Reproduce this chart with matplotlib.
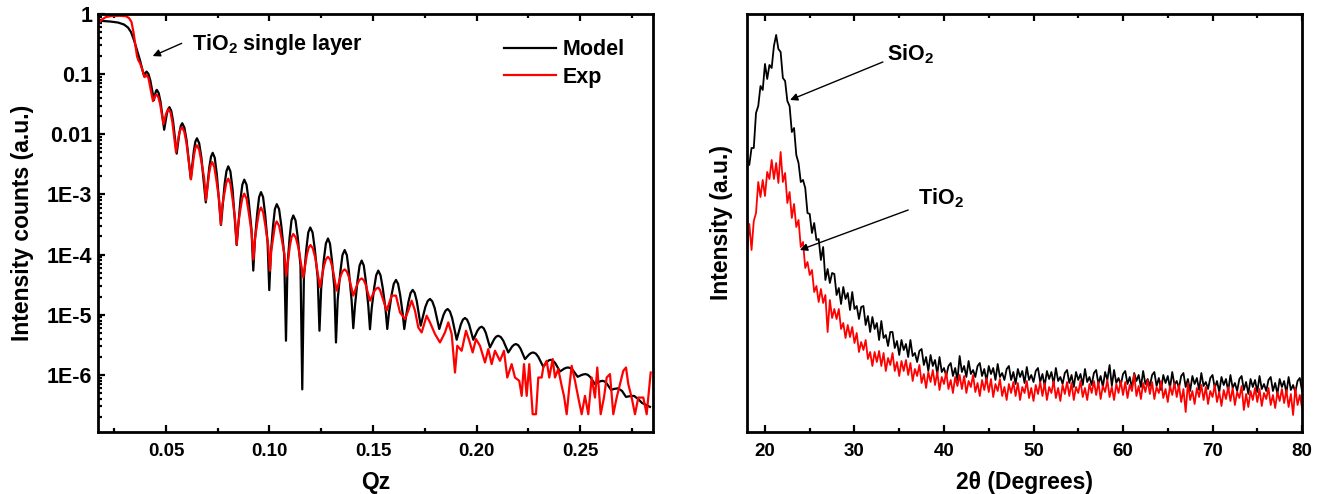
"""
XRR fit of a TiO2 single layer (left) and XRD of the SiO2 / TiO2 films (right).
"""

import numpy as np
import matplotlib
matplotlib.use("Agg")
import matplotlib.pyplot as plt
from matplotlib.ticker import MultipleLocator, LogLocator, NullFormatter

# XRR model curve: Qz and log10 of the reflected intensity
model_qz = [
    0.01764, 0.02295, 0.02682, 0.02971, 0.03165, 0.0331, 0.03454, 0.03599, 0.03744, 0.03865,
    0.03947, 0.04005, 0.04063, 0.04152, 0.04242, 0.0442,
    0.0449, 0.04527, 0.0456, 0.04647, 0.04737, 0.04913,
    0.05041, 0.05106, 0.05169, 0.05256, 0.05343, 0.05517,
    0.05652, 0.0572, 0.05787, 0.05889, 0.05993, 0.06198,
    0.06348, 0.06422, 0.06497, 0.06604, 0.0671, 0.06922,
    0.07089, 0.07174, 0.07256, 0.07357, 0.07456, 0.07657,
    0.07833, 0.07922, 0.08009, 0.08111, 0.08212, 0.08415,
    0.08598, 0.0869, 0.08782, 0.08891, 0.08999, 0.0913, 0.09217,
    0.09289, 0.09403, 0.09497, 0.09589, 0.0969, 0.09789, 0.09907, 0.09989,
    0.10062, 0.10171, 0.1026, 0.10352, 0.10463, 0.10574, 0.10709, 0.10796,
    0.10869, 0.10972, 0.11062, 0.11149, 0.11257, 0.11366, 0.11496, 0.11583,
    0.11661, 0.11777, 0.11873, 0.1197, 0.12081, 0.12192, 0.12327, 0.12414,
    0.12496, 0.12619, 0.12723, 0.12825, 0.12921, 0.13018, 0.13134, 0.13211,
    0.13293, 0.13421, 0.13525, 0.13631, 0.13735, 0.13839, 0.13965, 0.14047,
    0.14129, 0.1425, 0.14351, 0.14452, 0.14554, 0.14653, 0.14771, 0.14853,
    0.14935, 0.15054, 0.15153, 0.15254, 0.15363, 0.15471, 0.15602, 0.15689,
    0.15771, 0.15899, 0.16003, 0.16109, 0.1621, 0.16309, 0.16428, 0.1651,
    0.16592, 0.16713, 0.16814, 0.16916, 0.17012, 0.17109, 0.17302,
    0.17527, 0.1764, 0.17751, 0.17862, 0.17976, 0.182,
    0.18403, 0.18505, 0.18606, 0.18715, 0.18823, 0.19041,
    0.19241, 0.1934, 0.19442, 0.19543, 0.19642, 0.19843,
    0.20045, 0.20147, 0.20248, 0.2035, 0.20449, 0.20649,
    0.2085, 0.20949, 0.2105, 0.21171, 0.21292, 0.21533,
    0.21719, 0.21813, 0.21905, 0.22014, 0.22122, 0.2234,
    0.2254, 0.22639, 0.22741, 0.22861, 0.22982, 0.23224,
    0.23402, 0.23492, 0.23581, 0.23692, 0.23806, 0.2403,
    0.24231, 0.2433, 0.24431, 0.24545, 0.24658, 0.24885,
    0.25078, 0.25175, 0.25272, 0.25383, 0.25496, 0.25721,
    0.25907, 0.26001, 0.26093, 0.26194, 0.26293, 0.26494,
    0.26663, 0.26832, 0.27025, 0.27218, 0.27411, 0.27604, 0.27798, 0.27991, 0.28377,
]
model_log_r = [
    -0.112, -0.125, -0.142, -0.175, -0.225, -0.3, -0.433, -0.6, -0.767, -0.933,
    -1.033, -0.983, -0.958, -0.997, -1.102, -1.433,
    -1.313, -1.275, -1.262, -1.315, -1.46, -1.925,
    -1.663, -1.58, -1.55, -1.612, -1.782, -2.322,
    -1.968, -1.857, -1.817, -1.89, -2.095, -2.742,
    -2.27, -2.12, -2.067, -2.15, -2.387, -3.133,
    -2.557, -2.375, -2.308, -2.392, -2.668, -3.508,
    -2.827, -2.612, -2.533, -2.617, -2.9, -3.842,
    -3.082, -2.838, -2.755, -2.838, -3.122, -3.583, -4.267,
    -3.795, -3.328, -3.045, -2.962, -3.045, -3.328, -3.795, -4.592,
    -3.995, -3.528, -3.245, -3.162, -3.245, -3.528, -3.995, -5.433,
    -4.183, -3.717, -3.433, -3.35, -3.433, -3.717, -4.183, -6.242,
    -4.383, -3.917, -3.633, -3.55, -3.633, -3.917, -4.383, -5.267,
    -4.567, -4.1, -3.817, -3.733, -3.817, -4.1, -4.567, -5.462,
    -4.758, -4.292, -4.008, -3.925, -4.008, -4.292, -4.758, -5.225,
    -4.85, -4.438, -4.183, -4.1, -4.183, -4.442, -4.85, -5.242,
    -4.9, -4.558, -4.345, -4.267, -4.345, -4.558, -4.9, -5.238,
    -4.967, -4.667, -4.487, -4.422, -4.487, -4.667, -4.967, -5.238,
    -5.033, -4.783, -4.64, -4.588, -4.637, -4.767, -5.183,
    -4.872, -4.773, -4.738, -4.778, -4.888, -5.238,
    -5.005, -4.932, -4.905, -4.947, -5.058, -5.417,
    -5.163, -5.083, -5.055, -5.083, -5.163, -5.417,
    -5.265, -5.217, -5.2, -5.228, -5.303, -5.545,
    -5.408, -5.365, -5.35, -5.372, -5.433, -5.628,
    -5.53, -5.5, -5.488, -5.508, -5.563, -5.738,
    -5.662, -5.637, -5.628, -5.647, -5.7, -5.867,
    -5.785, -5.76, -5.75, -5.765, -5.808, -5.945,
    -5.898, -5.883, -5.878, -5.89, -5.925, -6.033,
    -6.002, -5.992, -5.988, -6.002, -6.038, -6.155,
    -6.117, -6.105, -6.1, -6.112, -6.145, -6.25,
    -6.233, -6.225, -6.267, -6.367, -6.355, -6.35, -6.4, -6.467, -6.533,
]

# XRR measured curve: Qz and log10 of the reflected intensity
exp_qz = [
    0.01764, 0.01909, 0.02102, 0.02392, 0.02778, 0.03068, 0.03213, 0.03334, 0.0343, 0.03527,
    0.03599, 0.03662, 0.03744, 0.03865, 0.03962, 0.04058, 0.04155, 0.04372,
    0.04459, 0.04503, 0.04546, 0.04628, 0.04713, 0.04879,
    0.05007, 0.05072, 0.05135, 0.05222, 0.05309, 0.05483,
    0.05628, 0.057, 0.05773, 0.05881, 0.0599, 0.06208,
    0.0635, 0.0642, 0.06492, 0.06604, 0.06712, 0.06845, 0.06932,
    0.07082, 0.07157, 0.07231, 0.07335, 0.07439, 0.07565, 0.07647,
    0.07719, 0.07828, 0.07917, 0.08009, 0.08111, 0.08212, 0.08333, 0.08415,
    0.08487, 0.08598, 0.0869, 0.08782, 0.08893, 0.09004, 0.09139, 0.09226,
    0.09299, 0.09407, 0.09497, 0.09589, 0.09697, 0.09806, 0.09936, 0.10023,
    0.10086, 0.10185, 0.10265, 0.10347, 0.10463, 0.10579, 0.10719, 0.1081,
    0.1098, 0.11064, 0.11149, 0.11269, 0.1139, 0.11632,
    0.11805, 0.11892, 0.11979, 0.12095, 0.12209, 0.12438,
    0.12631, 0.12728, 0.12825, 0.12931, 0.13035, 0.13245,
    0.13438, 0.13535, 0.13631, 0.13735, 0.13839, 0.14047,
    0.1425, 0.14351, 0.14452, 0.14554, 0.14653, 0.14853,
    0.15054, 0.15153, 0.15254,
    0.15336, 0.1566, 0.15901, 0.16109, 0.16302, 0.16544, 0.16703, 0.16867, 0.17027, 0.17186,
    0.1735, 0.17592, 0.17751, 0.17993, 0.18234, 0.18476, 0.18635, 0.18799, 0.18959, 0.1907,
    0.19282, 0.1949, 0.19649, 0.19814, 0.19973, 0.20166, 0.20408, 0.20567, 0.20731, 0.20891,
    0.21132, 0.21325, 0.21485, 0.21697, 0.21857, 0.22064, 0.2218, 0.22291, 0.22422, 0.22547,
    0.22712, 0.22871, 0.22982, 0.23146, 0.23224, 0.23388, 0.23513, 0.23678, 0.23789, 0.23948,
    0.24112, 0.24223, 0.24354, 0.24479, 0.24595, 0.24755, 0.24914, 0.25078, 0.25238, 0.25397,
    0.25561, 0.25721, 0.25832, 0.25996, 0.26155, 0.26286, 0.26445, 0.26605, 0.26769, 0.26928,
    0.27088, 0.27218, 0.2733, 0.27493, 0.27653, 0.27812, 0.28054, 0.28218, 0.28411,
]
exp_log_r = [
    -0.145, -0.092, -0.05, -0.033, -0.03, -0.037, -0.067, -0.133, -0.3, -0.533,
    -0.7, -0.767, -0.817, -0.933, -1.05, -1.017, -1.067, -1.45,
    -1.375, -1.35, -1.342, -1.382, -1.49, -1.833,
    -1.658, -1.603, -1.583, -1.64, -1.797, -2.295,
    -2.007, -1.917, -1.883, -1.953, -2.143, -2.75,
    -2.353, -2.228, -2.183, -2.257, -2.458, -2.733, -3.1,
    -2.653, -2.513, -2.462, -2.545, -2.773, -3.083, -3.5,
    -3.183, -2.967, -2.8, -2.738, -2.822, -3.067, -3.395, -3.833,
    -3.5, -3.242, -3.057, -2.988, -3.072, -3.317, -3.645, -4.083,
    -3.733, -3.477, -3.287, -3.217, -3.3, -3.532, -3.847, -4.267,
    -3.933, -3.695, -3.515, -3.45, -3.522, -3.72, -3.99, -4.35,
    -3.867, -3.713, -3.658, -3.717, -3.875, -4.378,
    -4.003, -3.885, -3.842, -3.898, -4.053, -4.545,
    -4.19, -4.078, -4.038, -4.083, -4.207, -4.6,
    -4.353, -4.275, -4.247, -4.282, -4.378, -4.683,
    -4.483, -4.42, -4.397, -4.427, -4.508, -4.767,
    -4.615, -4.567, -4.55,
    -4.588, -4.933, -4.683, -4.683, -4.962, -5.072, -4.933, -4.767, -4.933, -5.212,
    -5.295, -5.017, -5.128, -5.322, -5.462, -5.295, -5.128, -5.322, -5.962, -5.517,
    -5.6, -5.267, -5.433, -5.628, -5.405, -5.517, -5.795, -5.572, -5.822, -5.6,
    -5.767, -5.6, -6.045, -5.822, -6.045, -6.1, -6.35, -5.822, -6.35, -5.822,
    -6.655, -6.655, -6.045, -6.045, -5.878, -5.767, -6.045, -5.738, -6.045, -5.905,
    -6.183, -6.35, -6.655, -6.212, -5.85, -6.1, -6.378, -6.655, -6.35, -6.655,
    -6.045, -6.378, -5.878, -6.655, -6.378, -6.045, -5.988, -6.655, -6.378, -6.155,
    -5.933, -5.878, -6.155, -6.378, -6.655, -6.378, -6.378, -6.655, -5.962,
]

# XRD scans, 2theta from 18 to 80 deg in 0.25 deg steps (arbitrary units)
two_theta = np.arange(18.0, 80.001, 0.25)
sio2_counts = [
    272, 267, 284, 284, 319, 326, 346, 342, 368, 353, 367, 364, 386, 397, 383, 380,
    354, 351, 331, 326, 300, 304, 277, 269, 250, 252, 244, 219, 218, 199, 209, 192,
    193, 172, 185, 152, 163, 149, 159, 158, 137, 144, 128, 145, 133, 139, 122, 140,
    123, 126, 113, 125, 126, 107, 116, 100, 115, 103, 109, 92, 111, 94, 97, 86,
    100, 100, 84, 91, 77, 92, 82, 88, 75, 92, 76, 79, 70, 81, 83, 67,
    75, 61, 77, 66, 72, 58, 75, 60, 64, 56, 66, 69, 56, 64, 52, 76,
    60, 66, 55, 71, 58, 62, 55, 66, 69, 56, 63, 51, 66, 58, 64, 52,
    68, 55, 59, 52, 63, 66, 52, 60, 48, 63, 55, 61, 49, 65, 52, 57,
    50, 61, 64, 50, 58, 46, 61, 53, 60, 48, 64, 51, 55, 48, 59, 62,
    49, 57, 45, 60, 52, 58, 47, 63, 50, 55, 47, 59, 62, 48, 56, 45,
    60, 52, 67, 46, 62, 49, 54, 47, 58, 61, 48, 55, 44, 59, 51, 57,
    45, 61, 48, 53, 46, 57, 60, 46, 54, 42, 57, 49, 56, 44, 60, 47,
    51, 44, 56, 59, 45, 53, 41, 56, 48, 54, 42, 59, 46, 50, 43, 54,
    57, 44, 51, 40, 55, 47, 53, 41, 57, 44, 49, 41, 53, 56, 42, 50,
    38, 53, 45, 52, 40, 56, 43, 48, 41, 52, 55, 41, 49, 38, 53, 45,
    51, 39, 55, 42, 47, 40, 51, 54, 41,
]
tio2_counts = [
    182, 208, 182, 211, 219, 250, 235, 252, 236, 260, 253, 272, 253, 269, 249, 280,
    250, 259, 229, 240, 214, 228, 205, 212, 185, 190, 164, 170, 157, 162, 140, 146,
    130, 143, 129, 137, 100, 132, 114, 123, 113, 123, 103, 109, 94, 107, 95, 105,
    89, 99, 80, 90, 82, 92, 73, 80, 66, 80, 70, 81, 66, 79, 61, 74,
    67, 79, 61, 70, 56, 71, 61, 72, 57, 69, 51, 63, 56, 67, 49, 58,
    44, 60, 50, 62, 47, 60, 42, 55, 48, 60, 43, 52, 39, 55, 46, 57,
    43, 56, 39, 51, 45, 57, 40, 49, 36, 52, 42, 54, 40, 53, 35, 48,
    41, 53, 36, 45, 32, 48, 39, 50, 36, 49, 32, 45, 39, 51, 34, 44,
    31, 47, 38, 50, 36, 49, 32, 45, 39, 51, 34, 44, 31, 47, 38, 50,
    36, 49, 32, 45, 39, 51, 35, 44, 32, 48, 39, 51, 37, 50, 33, 46,
    40, 52, 35, 45, 32, 48, 39, 51, 37, 50, 34, 47, 41, 58, 36, 46,
    33, 49, 40, 52, 38, 50, 33, 45, 39, 51, 34, 43, 30, 46, 37, 49,
    35, 47, 30, 43, 20, 49, 32, 41, 28, 44, 35, 47, 32, 45, 28, 41,
    35, 47, 30, 40, 26, 42, 33, 45, 31, 44, 27, 40, 34, 46, 22, 38,
    25, 41, 32, 44, 30, 43, 26, 39, 33, 44, 27, 37, 24, 40, 31, 43,
    29, 42, 25, 38, 17, 44, 27, 37, 24,
]

plt.rcParams["font.family"] = ["Liberation Sans", "DejaVu Sans"]
plt.rcParams["font.weight"] = "bold"
plt.rcParams["axes.labelweight"] = "bold"
plt.rcParams["mathtext.fontset"] = "custom"
plt.rcParams["mathtext.rm"] = "Liberation Sans:bold"
plt.rcParams["mathtext.bf"] = "Liberation Sans:bold"
plt.rcParams["mathtext.it"] = "Liberation Sans:bold"

fig = plt.figure(figsize=(13.22, 4.94), dpi=100)
ax1 = fig.add_axes([0.0741, 0.1255, 0.4198, 0.8462])
ax2 = fig.add_axes([0.5651, 0.1255, 0.4198, 0.8462])

arrow = dict(arrowstyle="-|>", color="black", lw=1.0, mutation_scale=11,
             shrinkA=0, shrinkB=0)

# Left: reflectivity
ax1.plot(model_qz, 10 ** np.array(model_log_r), color="black", lw=1.6, label="Model")
ax1.plot(exp_qz, 10 ** np.array(exp_log_r), color="#ff0000", lw=1.6, label="Exp")
ax1.set_yscale("log")
ax1.set_xlim(0.01715, 0.2852)
ax1.set_ylim(1.12e-7, 1.0)
ax1.set_yticks([1, 0.1, 0.01, 1e-3, 1e-4, 1e-5, 1e-6])
ax1.set_yticklabels(["1", "0.1", "0.01", "1E-3", "1E-4", "1E-5", "1E-6"])
ax1.yaxis.set_minor_locator(LogLocator(base=10, subs=np.arange(2, 10), numticks=20))
ax1.yaxis.set_minor_formatter(NullFormatter())
ax1.set_xticks([0.05, 0.10, 0.15, 0.20, 0.25])
ax1.set_xticklabels(["0.05", "0.10", "0.15", "0.20", "0.25"])
ax1.xaxis.set_minor_locator(MultipleLocator(0.025))
ax1.set_xlabel("Qz", fontsize=16.5, labelpad=8)
ax1.set_ylabel("Intensity counts (a.u.)", fontsize=16.5, labelpad=9)
ax1.legend(loc="upper left", bbox_to_anchor=(0.7315, 0.94), frameon=False,
           fontsize=15.5, handlelength=2.4, handletextpad=0.33, labelspacing=0.3,
           borderpad=0, borderaxespad=0)
ax1.annotate("", xy=(0.04358, 0.1995), xytext=(0.05758, 0.325), arrowprops=arrow)
ax1.text(0.0626, 0.251, "TiO$_2$ single layer", fontsize=15.5, fontweight="bold",
         ha="left", va="baseline")

# Right: XRD
ax2.plot(two_theta, sio2_counts, color="black", lw=1.3)
ax2.plot(two_theta, tio2_counts, color="#ff0000", lw=1.3)
ax2.set_xlim(18, 80)
ax2.set_ylim(0, 418)
ax2.set_yticks([])
ax2.xaxis.set_major_locator(MultipleLocator(10))
ax2.xaxis.set_minor_locator(MultipleLocator(5))
ax2.set_xlabel("2θ (Degrees)", fontsize=16.5, labelpad=8)
ax2.set_ylabel("Intensity (a.u.)", fontsize=16.5, labelpad=10)
ax2.annotate("", xy=(22.8, 332), xytext=(33.17, 370), arrowprops=arrow)
ax2.text(33.6, 372, "SiO$_2$", fontsize=15.5, fontweight="bold", ha="left", va="baseline")
ax2.annotate("", xy=(23.9, 182), xytext=(36.0, 222), arrowprops=arrow)
ax2.text(37.1, 228, "TiO$_2$", fontsize=15.5, fontweight="bold", ha="left", va="baseline")

for ax in (ax1, ax2):
    for sp in ax.spines.values():
        sp.set_linewidth(2.0)
    ax.tick_params(which="both", direction="in", top=True, width=1.6)
    ax.tick_params(which="major", length=5)
    ax.tick_params(which="minor", length=3)
    ax.tick_params(axis="x", labelsize=13.5, pad=8)
ax1.tick_params(axis="y", labelsize=15.5, pad=4)

fig.savefig("out.png", dpi=100)
